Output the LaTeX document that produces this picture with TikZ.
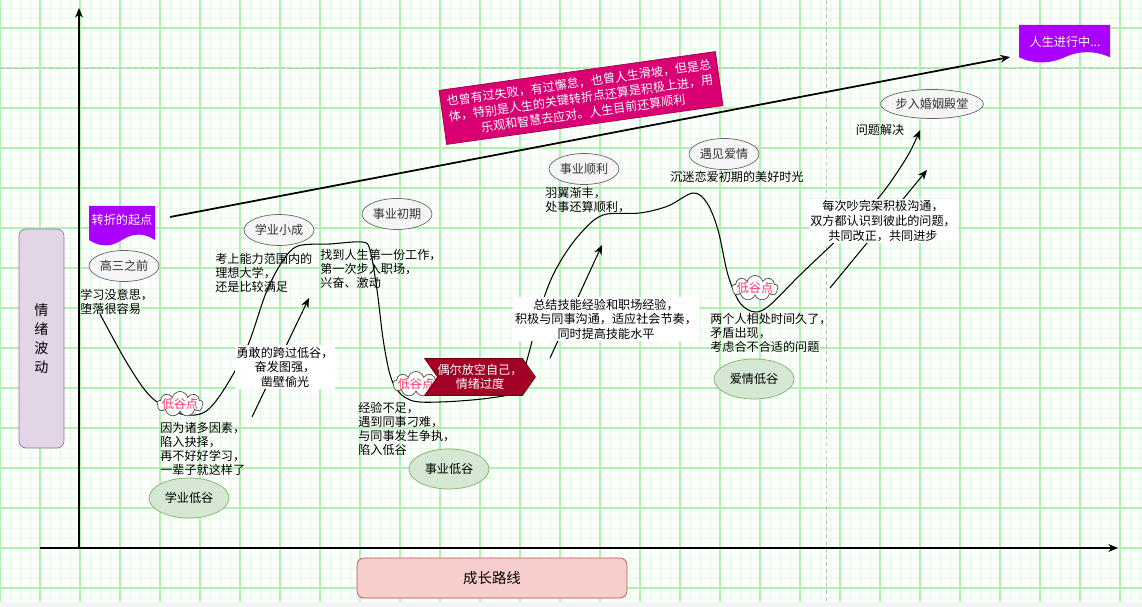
\documentclass[tikz,border=0pt]{standalone}
\usepackage{fontspec}
\setmainfont{Noto Sans CJK SC}
\usetikzlibrary{shapes.geometric,shapes.symbols,arrows.meta}

\newdimen\unitpx
\unitpx=0.02cm

\definecolor{gridmajor}{RGB}{176,242,176}
\definecolor{gridminor}{RGB}{226,251,226}
\definecolor{pagebreak}{RGB}{190,190,190}
\definecolor{stripgray}{RGB}{242,244,246}
\definecolor{moodfill}{HTML}{E1D5E7}
\definecolor{moodline}{HTML}{9673A6}
\definecolor{growfill}{HTML}{F8CECC}
\definecolor{growline}{HTML}{B85450}
\definecolor{turnfill}{HTML}{AA00FF}
\definecolor{notefill}{HTML}{D80073}
\definecolor{noteline}{HTML}{A50040}
\definecolor{ventfill}{HTML}{A20025}
\definecolor{ventline}{HTML}{6F0000}
\definecolor{stagefill}{HTML}{F5F5F5}
\definecolor{stageline}{HTML}{666666}
\definecolor{stagetext}{HTML}{333333}
\definecolor{troughfill}{HTML}{D5E8D4}
\definecolor{troughline}{HTML}{82B366}
\definecolor{lowred}{HTML}{FF3366}

% document shape: x, y, width, height, colour
\newcommand{\docshape}[5]{%
  \fill[#5] (#1,#2) -- (#1+#3,#2) -- (#1+#3,#2+0.85*#4)
    .. controls (#1+0.833*#3,#2+0.67*#4) and (#1+0.667*#3,#2+0.67*#4) .. (#1+0.5*#3,#2+0.85*#4)
    .. controls (#1+0.333*#3,#2+1.03*#4) and (#1+0.167*#3,#2+1.03*#4) .. (#1,#2+0.85*#4)
    -- cycle;}

\begin{document}
\begin{tikzpicture}[x=0.02cm, y=-0.02cm,
  lbl/.style={font=\fontsize{6.9}{7.9}\selectfont, inner sep=0pt, align=left, anchor=west},
  lblbox/.style={font=\fontsize{6.9}{8.3}\selectfont, inner sep=1pt, align=center, fill=white},
  stage/.style={ellipse, draw=stageline, fill=stagefill, text=stagetext,
    minimum width=70\unitpx, minimum height=31\unitpx, inner sep=0pt,
    font=\fontsize{6.9}{8}\selectfont},
  trough/.style={ellipse, draw=troughline, fill=troughfill,
    minimum width=80\unitpx, minimum height=40\unitpx, inner sep=0pt,
    font=\fontsize{6.9}{8}\selectfont},
  lowpoint/.style={cloud, cloud puffs=9, cloud ignores aspect, draw=black!70, fill=white,
    minimum width=46\unitpx, minimum height=25\unitpx, inner sep=0pt,
    label={[text=lowred, font=\fontsize{6.9}{8}\selectfont]center:低谷点}},
  doctext/.style={text=white, font=\fontsize{6.9}{8}\selectfont, inner sep=0pt},
  curve/.style={line width=0.6pt, -{Stealth[length=5.5pt,width=4.5pt]}},
  axis/.style={line width=0.8pt, -{Stealth[length=5.5pt,width=4.5pt]}},
]
  \useasboundingbox (0,0) rectangle (1142,607);

  % grid paper
  \foreach \gx in {0,10,...,1140}
    \draw[gridminor, line width=0.5pt] (\gx,0) -- (\gx,602);
  \foreach \gy in {8,18,...,598}
    \draw[gridminor, line width=0.5pt] (0,\gy) -- (1142,\gy);
  \foreach \gx in {0,40,...,1120}
    \draw[gridmajor, line width=0.6pt] (\gx,0) -- (\gx,602);
  \foreach \gy in {28,68,...,588}
    \draw[gridmajor, line width=0.6pt] (0,\gy) -- (1142,\gy);
  \draw[pagebreak, dash pattern=on 2pt off 2pt] (826,0) -- (826,602);
  \draw[pagebreak, dash pattern=on 2pt off 2pt] (0,68) -- (1142,68);
  \fill[stripgray] (0,602) rectangle (1142,607);

  % axes
  \coordinate (origin) at (79,548);
  \coordinate (ytip) at (79,8);
  \coordinate (xstart) at (40,548);
  \coordinate (xtip) at (1118,548);
  \draw[axis] (origin) -- (ytip);
  \draw[axis] (xstart) -- (xtip);

  \node[draw=moodline, fill=moodfill, rounded corners=4pt, minimum width=45\unitpx,
    minimum height=219\unitpx, align=center, font=\fontsize{8}{10.8}\selectfont]
    (mood) at (41.5,338.5) {情\\绪\\波\\动};
  \node[draw=growline, fill=growfill, rounded corners=4pt, minimum width=270\unitpx,
    minimum height=40\unitpx, font=\fontsize{8.2}{9}\selectfont]
    (growth) at (492,578) {成长路线};

  % life line
  \coordinate (lifestart) at (170,217);
  \coordinate (lifeend) at (1010,57);
  \draw[curve, line width=1pt] (lifestart) -- (lifeend);
  \docshape{89}{206}{66}{40}{turnfill}
  \node[doctext] (turn) at (122,220) {转折的起点};
  \docshape{1019}{25}{91}{38}{turnfill}
  \node[doctext] (ongoing) at (1065,42) {人生进行中...};

  \node[rotate=8, fill=notefill, draw=noteline, text=white, text width=272\unitpx,
    align=center, inner xsep=2pt, inner ysep=3.5pt, font=\fontsize{6.9}{8.8}\selectfont]
    (summary) at (581,98)
    {也曾有过失败，有过懈怠，也曾人生滑坡，但是总\\体，特别是人生的关键转折点还算是积极上进，用\\乐观和智慧去应对。人生目前还算顺利};

  % mood curve
  \draw[curve] plot[smooth, tension=0.55] coordinates {
    (100,314) (127,363) (150,396) (175,412) (195,415) (210,408) (228,383)
    (248,345) (266,293) (282,262) (298,246) (330,244) (362,242) (370,250)
    (377,290) (384,345) (393,383) (410,400) (440,402) (490,398) (518,390)
    (527,360) (545,295) (560,262) (580,234) (603,215) (640,213) (668,206)
    (693,193) (707,203) (718,230) (728,275) (740,303) (755,312) (770,305)
    (800,275) (845,232) (880,196) (907,157) (920,130)};

  \coordinate (climbA) at (252,417);
  \coordinate (climbAend) at (309,298);
  \coordinate (climbB) at (550,358);
  \coordinate (climbBend) at (602,245);
  \coordinate (climbC) at (830,288);
  \coordinate (climbCend) at (927,170);
  \draw[curve] (climbA) -- (climbAend);
  \draw[curve] (climbB) -- (climbBend);
  \draw[curve] (climbC) -- (climbCend);

  % stages
  \node[stage] (senior) at (124,266) {高三之前};
  \node[stage] (college) at (279,230) {学业小成};
  \node[stage] (firstjob) at (397,214) {事业初期};
  \node[stage] (career) at (584,169) {事业顺利};
  \node[stage] (love) at (724,154) {遇见爱情};
  \node[stage, minimum width=95\unitpx, minimum height=29\unitpx] (marriage) at (932,104) {步入婚姻殿堂};

  \node[trough] (studylow) at (189,498) {学业低谷};
  \node[trough] (worklow) at (449,469) {事业低谷};
  \node[trough] (lovelow) at (754,379) {爱情低谷};

  \node[lowpoint] (low1) at (180,404) {};
  \node[lowpoint] (low2) at (416,384) {};
  \node[lowpoint] (low3) at (755,288) {};

  \node[signal, signal from=west, signal to=east, signal pointer angle=110,
    fill=ventfill, draw=ventline, text=white, minimum width=92\unitpx,
    minimum height=37\unitpx, inner sep=0pt, align=center,
    font=\fontsize{6.9}{7.9}\selectfont] (vent) at (480,377) {偶尔放空自己，\\情绪过度};

  % notes
  \node[lbl] (bored) at (80,302) {学习没意思，\\堕落很容易};
  \node[lbl] (choice) at (160,449) {因为诸多因素，\\陷入抉择，\\再不好好学习，\\一辈子就这样了};
  \node[lbl] (uni) at (215,273) {考上能力范围内的\\理想大学，\\还是比较满足};
  \node[lbl] (job) at (320,269) {找到人生第一份工作，\\第一次步入职场，\\兴奋、激动};
  \node[lbl] (conflict) at (358,429) {经验不足，\\遇到同事刁难，\\与同事发生争执，\\陷入低谷};
  \node[lbl] (wings) at (545,200) {羽翼渐丰，\\处事还算顺利，};
  \node[lbl, anchor=center] (sweet) at (737,177) {沉迷恋爱初期的美好时光};
  \node[lbl] (friction) at (710,333) {两个人相处时间久了，\\矛盾出现，\\考虑合不合适的问题};
  \node[lbl, anchor=center] (solved) at (880,130) {问题解决};

  \node[lblbox] (brave) at (285,367) {勇敢的跨过低谷，\\奋发图强，\\凿壁偷光};
  \node[lblbox] (learn) at (606,319) {总结技能经验和职场经验，\\积极与同事沟通，适应社会节奏，\\同时提高技能水平};
  \node[lblbox] (talk) at (883,221) {每次吵完架积极沟通，\\双方都认识到彼此的问题，\\共同改正，共同进步};
\end{tikzpicture}
\end{document}
